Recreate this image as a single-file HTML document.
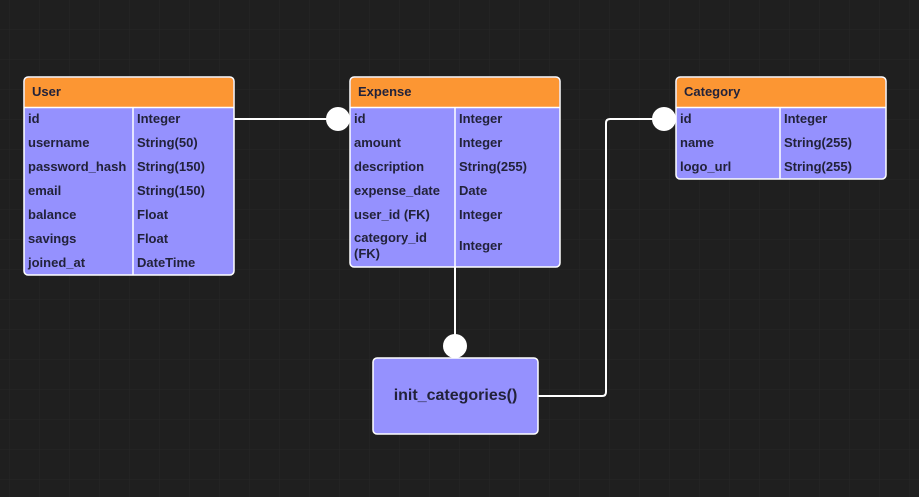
<!DOCTYPE html>
<html><head><meta charset="utf-8"><style>
html,body{margin:0;padding:0;background:#1f1f1f;}
svg{display:block;}
text{font-family:"Liberation Sans",sans-serif;font-weight:bold;font-size:13px;fill:#22223a;}
</style></head><body>
<svg width="919" height="497" viewBox="0 0 919 497" xmlns="http://www.w3.org/2000/svg">
<defs>
<pattern id="g" x="9" y="-1" width="30" height="30" patternUnits="userSpaceOnUse">
<path d="M0 0V30M0 0H30" stroke="#272727" stroke-width="1" fill="none"/>
</pattern>
</defs>
<rect width="919" height="497" fill="#1f1f1f"/>
<rect width="919" height="497" fill="url(#g)"/>

<!-- connectors -->
<g stroke="#fff" stroke-width="2" fill="none">
<path d="M234 119H328"/>
<path d="M455 267V340"/>
<path d="M538 396H602Q606 396 606 392V123Q606 119 610 119H656"/>
</g>

<!-- User -->
<rect x="24" y="77" width="210" height="198" rx="4" fill="#9591fe" stroke="#fff" stroke-width="1.5"/>
<path d="M24.75 107V81.75Q24.75 77.75 28.75 77.75H229.25Q233.25 77.75 233.25 81.75V107Z" fill="#fc9633"/>
<path d="M24 107.5H234M133 107.5V275" stroke="#fff" stroke-width="1.5"/>
<text x="32" y="96">User</text>
<text x="28" y="123">id</text><text x="137" y="123">Integer</text>
<text x="28" y="147">username</text><text x="137" y="147">String(50)</text>
<text x="28" y="171">password_hash</text><text x="137" y="171">String(150)</text>
<text x="28" y="195">email</text><text x="137" y="195">String(150)</text>
<text x="28" y="219">balance</text><text x="137" y="219">Float</text>
<text x="28" y="243">savings</text><text x="137" y="243">Float</text>
<text x="28" y="267">joined_at</text><text x="137" y="267">DateTime</text>

<!-- Expense -->
<rect x="350" y="77" width="210" height="190" rx="4" fill="#9591fe" stroke="#fff" stroke-width="1.5"/>
<path d="M350.75 107V81.75Q350.75 77.75 354.75 77.75H555.25Q559.25 77.75 559.25 81.75V107Z" fill="#fc9633"/>
<path d="M350 107.5H560M455 107.5V267" stroke="#fff" stroke-width="1.5"/>
<text x="358" y="96">Expense</text>
<text x="354" y="123">id</text><text x="459" y="123">Integer</text>
<text x="354" y="147">amount</text><text x="459" y="147">Integer</text>
<text x="354" y="171">description</text><text x="459" y="171">String(255)</text>
<text x="354" y="195">expense_date</text><text x="459" y="195">Date</text>
<text x="354" y="219">user_id (FK)</text><text x="459" y="219">Integer</text>
<text x="354" y="242">category_id</text><text x="354" y="258">(FK)</text><text x="459" y="250">Integer</text>

<!-- Category -->
<rect x="676" y="77" width="210" height="102" rx="4" fill="#9591fe" stroke="#fff" stroke-width="1.5"/>
<path d="M676.75 107V81.75Q676.75 77.75 680.75 77.75H881.25Q885.25 77.75 885.25 81.75V107Z" fill="#fc9633"/>
<path d="M676 107.5H886M780 107.5V179" stroke="#fff" stroke-width="1.5"/>
<text x="684" y="96">Category</text>
<text x="680" y="123">id</text><text x="784" y="123">Integer</text>
<text x="680" y="147">name</text><text x="784" y="147">String(255)</text>
<text x="680" y="171">logo_url</text><text x="784" y="171">String(255)</text>

<!-- init box -->
<rect x="373" y="358" width="165" height="76" rx="4" fill="#9591fe" stroke="#fff" stroke-width="1.5"/>
<text x="455.5" y="400" text-anchor="middle" style="font-size:16px">init_categories()</text>

<!-- circles -->
<circle cx="338" cy="119" r="12" fill="#fff"/>
<circle cx="455" cy="346" r="12" fill="#fff"/>
<circle cx="664" cy="119" r="12" fill="#fff"/>
</svg>
</body></html>
